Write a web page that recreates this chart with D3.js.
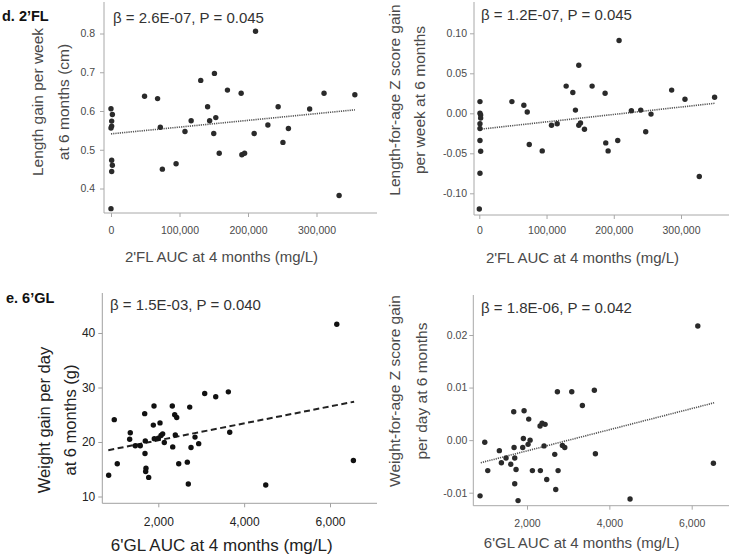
<!DOCTYPE html>
<html>
<head>
<meta charset="utf-8">
<script src="https://cdn.jsdelivr.net/npm/d3@7/dist/d3.min.js"></script>
<style>
body { margin: 0; background: #fff; }
svg { display: block; font-family: "Liberation Sans", Arial, sans-serif; }
</style>
</head>
<body>
<div id="chart"></div>
<script>
// d. 2'FL vs length gain per week
const flAucLen = [0, 2000, 1000, 1000, 0, 1000, 2000, 1000, 0, 49000, 68000, 72000, 75000, 95000, 108000, 117000, 131000, 141000, 144000, 151000, 150000, 153000, 158000, 170000, 190000, 191000, 195000, 211000, 209000, 229000, 244000, 251000, 259000, 290000, 311000, 333000, 356000];
const lenGain = [0.606, 0.591, 0.574, 0.561, 0.556, 0.473, 0.460, 0.444, 0.348, 0.638, 0.632, 0.558, 0.450, 0.464, 0.547, 0.575, 0.679, 0.611, 0.575, 0.697, 0.542, 0.583, 0.491, 0.654, 0.646, 0.487, 0.491, 0.806, 0.542, 0.564, 0.611, 0.519, 0.555, 0.605, 0.646, 0.382, 0.642];
const lenFit = [[0, 0.541], [356000, 0.603]];

// d. 2'FL vs length-for-age Z score gain per week
const flAucLaz = [0, 1000, 1000, 2000, 2000, 1000, 1000, 1000, 2000, 1000, 48500, 66300, 71300, 74300, 93600, 107400, 115800, 129200, 139100, 143000, 148000, 148000, 150500, 156400, 167800, 187100, 188100, 191600, 207900, 205900, 226200, 240100, 247500, 255400, 286100, 305900, 327200, 350000];
const lazGain = [-0.1196, 0.0146, 0.000, -0.002, -0.006, -0.013, -0.019, -0.034, -0.0475, -0.075, 0.0146, 0.010, 0.0017, -0.039, -0.047, -0.015, -0.013, 0.034, 0.026, 0.004, 0.060, -0.015, -0.012, -0.020, 0.034, 0.025, -0.037, -0.047, 0.091, -0.034, 0.0033, 0.004, -0.023, -0.001, 0.029, 0.0175, -0.079, 0.020];
const lazFit = [[0, -0.020], [350000, 0.0125]];

// e. 6'GL vs weight gain per day
const glAucWt = [844, 974, 1044, 1333, 1347, 1464, 1580, 1683, 1690, 1697, 1713, 1706, 1776, 1900, 1884, 1907, 2000, 2040, 2063, 2102, 2140, 2326, 2336, 2382, 2396, 2429, 2476, 2676, 2699, 2732, 2762, 2855, 2941, 3081, 3338, 3632, 3664, 4503, 6158, 6545];
const wtGain = [13.9, 24.1, 16.0, 20.5, 21.7, 19.3, 19.3, 25.2, 17.9, 20.2, 15.2, 14.6, 13.5, 26.6, 23.1, 20.6, 20.7, 23.5, 21.2, 21.5, 19.9, 26.6, 19.1, 25.0, 21.3, 24.5, 16.0, 16.3, 12.3, 26.4, 19.0, 20.9, 19.7, 28.9, 28.3, 29.2, 21.8, 12.1, 41.6, 16.6];
const wtFit = [[835, 18.5], [6562, 27.4]];

// e. 6'GL vs weight-for-age Z score gain per day
const glAucWaz = [860, 974, 1047, 1329, 1378, 1491, 1605, 1678, 1686, 1702, 1702, 1734, 1783, 1896, 1912, 1929, 2026, 2042, 2075, 2131, 2317, 2325, 2366, 2414, 2439, 2479, 2674, 2698, 2738, 2755, 2860, 2917, 3087, 3345, 3636, 3661, 4503, 6148, 6527];
const wazGain = [-0.0106, -0.0004, -0.0058, -0.0020, -0.0043, -0.0034, -0.0046, 0.0054, -0.0014, -0.0034, -0.0083, -0.0056, -0.0115, -0.0014, 0.0003, 0.0056, -0.0008, 0.0040, 0.0000, -0.0058, 0.0027, -0.0058, 0.0032, -0.0011, 0.0030, -0.0075, -0.0027, -0.0094, 0.0092, -0.0058, -0.0010, -0.0014, 0.0092, 0.0066, 0.0095, -0.0026, -0.0112, 0.0217, -0.0044];
const wazFit = [[877, -0.0043], [6544, 0.0071]];

const flTicks = [0, 100000, 200000, 300000];
const glTicks = [2000, 4000, 6000];
const lenTicks = [0.4, 0.5, 0.6, 0.7, 0.8];
const lazTicks = [-0.10, -0.05, 0.00, 0.05, 0.10];
const wtTicks = [10, 20, 30, 40];
const wazTicks = [-0.01, 0.00, 0.01, 0.02];

const svg = d3.select("#chart").append("svg").attr("width", 729).attr("height", 560);
svg.append("rect").attr("width", 729).attr("height", 560).attr("fill", "#fff");

function panel(p) {
    const x = d3.scaleLinear().domain(p.xDom).range(p.xRng);
    const y = d3.scaleLinear().domain(p.yDom).range(p.yRng);
    const g = svg.append("g");

    // axis spines
    g.append("line").attr("x1", p.left).attr("x2", p.left).attr("y1", p.top).attr("y2", p.bottom)
        .attr("stroke", p.axisColor);
    g.append("line").attr("x1", p.left).attr("x2", p.right).attr("y1", p.bottom).attr("y2", p.bottom)
        .attr("stroke", p.axisColor);

    const xa = g.append("g").attr("transform", `translate(0,${p.bottom})`)
        .call(d3.axisBottom(x).tickValues(p.xTicks).tickSize(4).tickPadding(p.xPad).tickFormat(d3.format(",")));
    const ya = g.append("g").attr("transform", `translate(${p.left},0)`)
        .call(d3.axisLeft(y).tickValues(p.yTicks).tickSize(4).tickPadding(p.yPad).tickFormat(p.yFmt));
    [xa, ya].forEach(a => {
        a.attr("font-family", null).attr("font-size", null);
        a.select(".domain").remove();
        a.selectAll("line").attr("stroke", p.axisColor);
        a.selectAll("text").attr("font-size", p.tickFont).attr("fill", p.textColor);
    });

    // fit line
    g.append("path").datum(p.fit)
        .attr("d", d3.line().x(d => x(d[0])).y(d => y(d[1])))
        .attr("fill", "none").attr("stroke", p.fitColor)
        .attr("stroke-width", p.fitWidth).attr("stroke-dasharray", p.fitDash);

    g.selectAll("circle").data(p.xs).join("circle")
        .attr("cx", d => x(d)).attr("cy", (d, i) => y(p.ys[i]))
        .attr("r", 2.7).attr("fill", p.dotColor);

    g.append("text").attr("x", p.annX).attr("y", p.annY).attr("font-size", 15).attr("fill", "#333")
        .text(p.ann);

    p.yLabel.forEach((t, i) => {
        g.append("text").attr("transform", `translate(${p.yLabX[i]},${p.yLabY}) rotate(-90)`)
            .attr("text-anchor", "middle").attr("dy", "0.35em")
            .attr("font-size", p.labFont).attr("fill", p.textColor).text(t);
    });
    g.append("text").attr("x", p.xLabX).attr("y", p.xLabY).attr("text-anchor", "middle")
        .attr("font-size", p.xLabFont).attr("fill", p.textColor).text(p.xLabel);

    if (p.tag) {
        g.append("text").attr("x", p.tagX).attr("y", p.tagY).attr("font-size", 14.5)
            .attr("font-weight", "bold").attr("fill", "#111").text(p.tag);
    }
}

const fix2 = d => d.toFixed(2);

panel({
    xs: flAucLen, ys: lenGain, fit: lenFit, xTicks: flTicks, yTicks: lenTicks, yFmt: d => d.toFixed(1),
    xDom: [0, 300000], xRng: [111, 316.5], yDom: [0.4, 0.8], yRng: [188.5, 33.5],
    left: 104, right: 377, top: 2, bottom: 213, xPad: 10, yPad: 5,
    axisColor: "#a8a8a8", textColor: "#4a4a4a", dotColor: "#2a2a2a", tickFont: 10.5,
    fitColor: "#555", fitWidth: 1.6, fitDash: "1.2,1",
    ann: "β = 2.6E-07, P = 0.045", annX: 113, annY: 23,
    yLabel: ["Length gain per week", "at 6 months (cm)"], yLabX: [38, 64], yLabY: 102, labFont: 15.5,
    xLabel: "2'FL AUC at 4 months (mg/L)", xLabX: 221.5, xLabY: 262, xLabFont: 15,
    tag: "d. 2’FL", tagX: 2, tagY: 21
});

panel({
    xs: flAucLaz, ys: lazGain, fit: lazFit, xTicks: flTicks, yTicks: lazTicks, yFmt: fix2,
    xDom: [0, 300000], xRng: [479.3, 681], yDom: [-0.1, 0.1], yRng: [193.3, 33.3],
    left: 474, right: 729, top: 2, bottom: 215, xPad: 8, yPad: 3,
    axisColor: "#a8a8a8", textColor: "#4a4a4a", dotColor: "#2a2a2a", tickFont: 10.5,
    fitColor: "#555", fitWidth: 1.6, fitDash: "1.2,1",
    ann: "β = 1.2E-07, P = 0.045", annX: 481, annY: 20,
    yLabel: ["Length-for-age Z score gain", "per week at 6 months"], yLabX: [395, 420], yLabY: 100, labFont: 15.5,
    xLabel: "2'FL AUC at 4 months (mg/L)", xLabX: 582.5, xLabY: 263, xLabFont: 15
});

panel({
    xs: glAucWt, ys: wtGain, fit: wtFit, xTicks: glTicks, yTicks: wtTicks, yFmt: d3.format("d"),
    xDom: [2000, 6000], xRng: [158.3, 330], yDom: [10, 40], yRng: [496.5, 333],
    left: 102.3, right: 377, top: 293, bottom: 503.3, xPad: 10, yPad: 3,
    axisColor: "#a0a0a0", textColor: "#222", dotColor: "#111", tickFont: 12,
    fitColor: "#222", fitWidth: 2, fitDash: "6,3.5",
    ann: "β = 1.5E-03, P = 0.040", annX: 110, annY: 310,
    yLabel: ["Weight gain per day", "at 6 months (g)"], yLabX: [44, 70], yLabY: 420, labFont: 16.5,
    xLabel: "6'GL AUC at 4 months (mg/L)", xLabX: 221.7, xLabY: 551, xLabFont: 17,
    tag: "e. 6’GL", tagX: 6, tagY: 303
});

panel({
    xs: glAucWaz, ys: wazGain, fit: wazFit, xTicks: glTicks, yTicks: wazTicks, yFmt: fix2,
    xDom: [2000, 6000], xRng: [527, 691.7], yDom: [-0.01, 0.02], yRng: [492.7, 335],
    left: 473.3, right: 729, top: 295, bottom: 505.7, xPad: 9.5, yPad: 2,
    axisColor: "#a8a8a8", textColor: "#4a4a4a", dotColor: "#2a2a2a", tickFont: 10.5,
    fitColor: "#555", fitWidth: 1.6, fitDash: "1.2,1",
    ann: "β = 1.8E-06, P = 0.042", annX: 481, annY: 313,
    yLabel: ["Weight-for-age Z score gain", "per day at 6 months"], yLabX: [395, 421.5], yLabY: 391, labFont: 15.5,
    xLabel: "6'GL AUC at 4 months (mg/L)", xLabX: 581.7, xLabY: 548, xLabFont: 15
});
</script>
</body>
</html>
